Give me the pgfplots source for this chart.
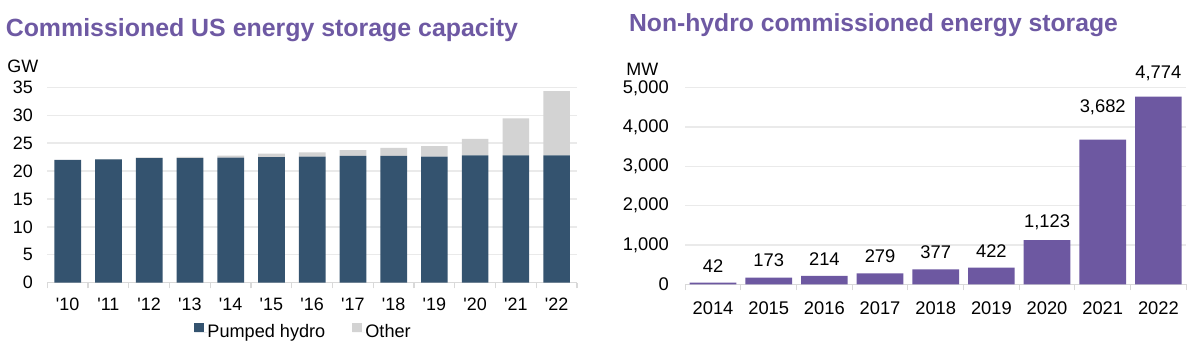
\documentclass[border=0pt]{standalone}
\usepackage{fontspec}
\setmainfont{Liberation Sans}[Ligatures=TeXOff]
\usepackage{pgfplots}
\usepackage{pgfplotstable}
\pgfplotsset{compat=1.18}
\definecolor{ttl}{HTML}{6E59A3}
\definecolor{darkbar}{HTML}{34536F}
\definecolor{lightbar}{HTML}{D3D3D3}
\definecolor{purplebar}{HTML}{6D58A1}
\definecolor{gridcol}{HTML}{EAEAEA}
\definecolor{axcol}{HTML}{D9D9D9}

\pgfplotstableread{
x pumped other
0 22.0 0.0
1 22.1 0.05
2 22.3 0.15
3 22.3 0.25
4 22.4 0.35
5 22.5 0.6
6 22.6 0.75
7 22.7 1.05
8 22.7 1.45
9 22.6 1.85
10 22.8 2.95
11 22.8 6.65
12 22.8 11.5
}\lefttable

\pgfplotstableread{
x mw shift
0 42 5
1 173 5
2 214 5
3 279 5
4 377 5
5 422 5
6 1123 5
7 3682 12
8 4774 7.5
}\righttable

\begin{document}
\begin{tikzpicture}[x=1bp,y=1bp]
\path[use as bounding box] (0,0) rectangle (600,175.5);
\node[anchor=base west, inner sep=0pt, text=ttl, font=\bfseries\fontsize{12.5}{14}\selectfont] at (2.7,157.15) {Commissioned US energy storage capacity};
\node[anchor=base west, inner sep=0pt, text=ttl, font=\bfseries\fontsize{12.4}{14}\selectfont] at (314.35,159.65) {Non-hydro commissioned energy storage};
\node[anchor=base west, inner sep=0pt, font=\fontsize{9}{10}\selectfont] at (3.5,139.3) {GW};
\node[anchor=base west, inner sep=0pt, font=\fontsize{9}{10}\selectfont] at (313,138) {MW};

\begin{axis}[
  at={(23.65bp,34.15bp)}, anchor=south west,
  scale only axis, width=264.85bp, height=97.7bp,
  /pgf/number format/assume math mode=true,
  ybar stacked, bar width=13.35bp,
  xmin=-0.5, xmax=12.5, ymin=0, ymax=35,
  xtick={0,...,12},
  xticklabels={'10,'11,'12,'13,'14,'15,'16,'17,'18,'19,'20,'21,'22},
  minor xtick={-0.5,0.5,...,12.5},
  ytick={0,5,...,35},
  axis x line*=bottom, axis y line*=left,
  y axis line style={draw=none},
  x axis line style={axcol, line width=0.6bp},
  tick align=outside, major tick length=0pt, minor tick length=2.85bp,
  minor x tick style={axcol, line width=0.6bp},
  ymajorgrids, major grid style={gridcol, line width=0.7bp},
  tick label style={font=\fontsize{9}{10}\selectfont},
  yticklabel style={anchor=east, inner sep=0pt, xshift=-7bp},
  xticklabel style={anchor=north, inner sep=0pt, yshift=-7.6bp},
  legend columns=2,
  legend style={draw=none, fill=none, at={(axis description cs:0.277,-0.25)}, anchor=west,
    font=\fontsize{9.1}{10}\selectfont, inner sep=0pt, nodes={inner sep=0pt},
    /tikz/every even column/.append style={column sep=13.5bp}},
  legend image code/.code={\fill[#1] (0bp,0.3bp) rectangle (4.7bp,5bp); \path (0bp,0bp) -- (6.5bp,0bp);},
]
\addplot[fill=darkbar, draw=none] table[x=x, y=pumped] {\lefttable};
\addplot[fill=lightbar, draw=none] table[x=x, y=other] {\lefttable};
\legend{Pumped hydro, Other}
\end{axis}

\begin{axis}[
  at={(342.6bp,33.35bp)}, anchor=south west,
  scale only axis, width=250.5bp, height=98.25bp,
  /pgf/number format/assume math mode=true,
  /pgf/number format/1000 sep={,},
  ybar, bar width=23.35bp,
  xmin=-0.5, xmax=8.5, ymin=0, ymax=5000,
  xtick={0,...,8},
  xticklabels={2014,2015,2016,2017,2018,2019,2020,2021,2022},
  minor xtick={-0.5,0.5,...,8.5},
  ytick={0,1000,...,5000},
  scaled y ticks=false,
  axis x line*=bottom, axis y line*=left,
  y axis line style={draw=none},
  x axis line style={axcol, line width=0.6bp},
  tick align=outside, major tick length=0pt, minor tick length=2.85bp,
  minor x tick style={axcol, line width=0.6bp},
  ymajorgrids, major grid style={gridcol, line width=0.7bp},
  tick label style={font=\fontsize{9.2}{10}\selectfont},
  yticklabel style={anchor=east, inner sep=0pt, xshift=-8bp},
  xticklabel style={anchor=north, inner sep=0pt, yshift=-8.3bp},
  nodes near coords,
  visualization depends on={\thisrow{shift} \as \lshift},
  every node near coord/.append style={font=\fontsize{9.2}{10}\selectfont, inner sep=0pt, anchor=south, yshift=\lshift bp},
]
\addplot[fill=purplebar, draw=none] table[x=x, y=mw] {\righttable};
\end{axis}
\end{tikzpicture}
\end{document}
